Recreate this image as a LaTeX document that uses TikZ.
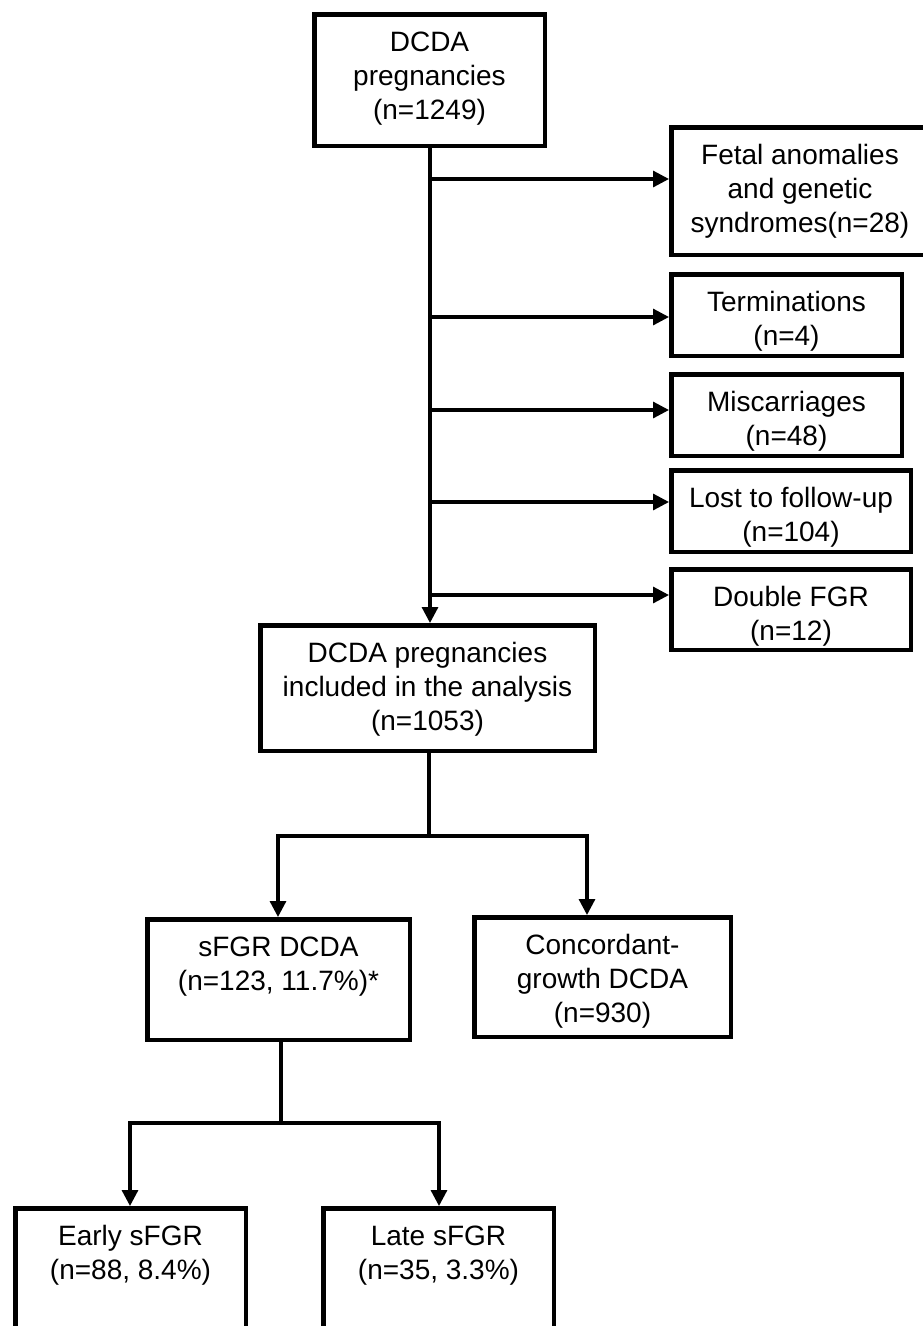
\documentclass[tikz,border=0pt]{standalone}
\usepackage{fontspec}
\setmainfont{Liberation Sans}
\usetikzlibrary{arrows.meta}
\newcommand{\bxt}[3]{\parbox[c][\dimexpr#2-4.5pt\relax][t]{\dimexpr#1-4.5pt\relax}{\centering\fontsize{28}{34}\selectfont\rule{0pt}{37.5pt}#3}}
\tikzset{
  flowbox/.style={draw=black, line width=4.5pt, inner sep=0pt, fill=white},
  conn/.style={draw=black, line width=3.2pt},
  arr/.style={conn, -{Triangle[length=16pt,width=16pt]}}
}
\begin{document}
\begin{tikzpicture}[x=1pt,y=-1pt]
\useasboundingbox (0,0) rectangle (923,1326);
% boxes
\node[flowbox] (top)    at (429.5,80)   {\bxt{235pt}{136pt}{DCDA\\pregnancies\\(n=1249)}};
\node[flowbox] (fetal)  at (800,191)    {\bxt{262pt}{132pt}{Fetal anomalies\\and genetic\\syndromes(n=28)}};
\node[flowbox] (term)   at (786.5,315)  {\bxt{235pt}{86pt}{Terminations\\(n=4)}};
\node[flowbox] (misc)   at (786.5,415)  {\bxt{235pt}{86pt}{Miscarriages\\(n=48)}};
\node[flowbox] (lost)   at (791,511)    {\bxt{244pt}{86pt}{Lost to follow-up\\(n=104)}};
\node[flowbox] (dfgr)   at (791,609.5)  {\bxt{244pt}{85pt}{Double FGR\\(n=12)}};
\node[flowbox] (incl)   at (427.5,688)  {\bxt{339pt}{130pt}{DCDA pregnancies\\included in the analysis\\(n=1053)}};
\node[flowbox] (sfgr)   at (278.5,979.5){\bxt{267pt}{125pt}{sFGR DCDA\\(n=123, 11.7\%)*}};
\node[flowbox] (conc)   at (602.5,977)  {\bxt{261pt}{124pt}{Concordant-\\growth DCDA\\(n=930)}};
\node[flowbox] (early)  at (130.5,1269) {\bxt{235pt}{126pt}{Early sFGR\\(n=88, 8.4\%)}};
\node[flowbox] (late)   at (438.5,1269) {\bxt{235pt}{126pt}{Late sFGR\\(n=35, 3.3\%)}};
% main trunk
\coordinate (t0) at (430,148);
\draw[arr] (t0) -- (t0 |- incl.north);
\coordinate (b1) at (430,179);
\coordinate (b2) at (430,317);
\coordinate (b3) at (430,410);
\coordinate (b4) at (430,502);
\coordinate (b5) at (430,595);
\draw[arr] (b1) -- (b1 -| fetal.west);
\draw[arr] (b2) -- (b2 -| term.west);
\draw[arr] (b3) -- (b3 -| misc.west);
\draw[arr] (b4) -- (b4 -| lost.west);
\draw[arr] (b5) -- (b5 -| dfgr.west);
% split after inclusion
\coordinate (j1) at (429,836);
\coordinate (jl) at (278,836);
\coordinate (jr) at (587,836);
\draw[conn] (incl.south -| j1) -- (j1);
\draw[arr] (j1) -- (jl) -- (jl |- sfgr.north);
\draw[arr] (j1) -- (jr) -- (jr |- conc.north);
% split after sFGR
\coordinate (k1) at (281,1123);
\coordinate (kl) at (130,1123);
\coordinate (kr) at (439,1123);
\draw[conn] (sfgr.south -| k1) -- (k1);
\draw[arr] (k1) -- (kl) -- (kl |- early.north);
\draw[arr] (k1) -- (kr) -- (kr |- late.north);
\end{tikzpicture}
\end{document}
